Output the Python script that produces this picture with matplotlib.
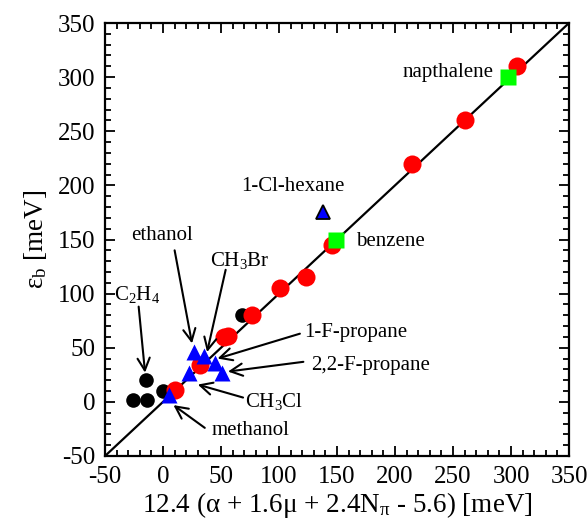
import numpy as np
import matplotlib.pyplot as plt

plt.rcParams['font.family'] = ['Liberation Serif', 'DejaVu Serif']
plt.rcParams['mathtext.fontset'] = 'custom'
plt.rcParams['mathtext.rm'] = 'Liberation Serif'
plt.rcParams['mathtext.it'] = 'Liberation Serif:italic'
plt.rcParams['axes.unicode_minus'] = False

# data
black_x = [-26, -14, -15, 0, 68]
black_y = [2, 2, 20, 10, 80]

red_x = [10, 32, 53, 56, 77, 101, 123, 146, 215, 260, 305]
red_y = [11, 34, 60, 61, 80, 105, 115, 145, 220, 260, 310]

blue_x = [5, 22, 27, 35, 45, 51]
blue_y = [6, 27, 46, 42, 36, 27]

hexane_x = [138]
hexane_y = [175]

green_x = [149, 297]
green_y = [150, 300]

fit_x = [-50, 350]
fit_y = [-50, 350]

fig = plt.figure(figsize=(5.88, 5.29), dpi=100)
ax = fig.add_axes([0.1786, 0.138, 0.7891, 0.8185])

ax.plot(fit_x, fit_y, color='black', lw=1.6, zorder=1)
ax.plot(black_x, black_y, 'o', color='black', ms=10.5, mec='none', zorder=2)
ax.plot(red_x, red_y, 'o', color='#ff0000', ms=13, mec='none', zorder=3)
ax.plot(blue_x, blue_y, '^', color='#0000ff', ms=12, mec='none', zorder=4)
ax.plot(hexane_x, hexane_y, '^', color='#0000ff', ms=10, mec='black', mew=1.3, zorder=4)
ax.plot(green_x, green_y, 's', color='#00ff00', ms=11.5, mec='none', zorder=5)

fs = 15
ax.text(246, 304, 'napthalene', fontsize=fs, ha='center', va='center')
ax.text(112, 199, '1-Cl-hexane', fontsize=fs, ha='center', va='center')
ax.text(166, 148, 'benzene', fontsize=fs, ha='left', va='center')

arr = dict(arrowstyle='->', color='black', lw=1.5, mutation_scale=22, shrinkA=0, shrinkB=0)
ax.text(-1, 154, 'ethanol', fontsize=fs, ha='center', va='center')
ax.annotate('', xy=(25, 54), xytext=(10, 140), arrowprops=arr)
ax.text(66, 131, r'CH$_3$Br', fontsize=fs, ha='center', va='center')
ax.annotate('', xy=(38, 46), xytext=(54, 122), arrowprops=arr)
ax.text(-22, 99, r'C$_2$H$_4$', fontsize=fs, ha='center', va='center')
ax.annotate('', xy=(-15.5, 27), xytext=(-21, 88), arrowprops=arr)
ax.text(71, 0, r'CH$_3$Cl', fontsize=fs, ha='left', va='center')
ax.annotate('', xy=(30, 16), xytext=(69, 4), arrowprops=arr)
ax.text(42, -26, 'methanol', fontsize=fs, ha='left', va='center')
ax.annotate('', xy=(9, -3), xytext=(36, -24), arrowprops=arr)
ax.text(122, 64, '1-F-propane', fontsize=fs, ha='left', va='center')
ax.annotate('', xy=(47, 40), xytext=(118, 63), arrowprops=arr)
ax.text(128, 34, '2,2-F-propane', fontsize=fs, ha='left', va='center')
ax.annotate('', xy=(56, 28), xytext=(121, 37), arrowprops=arr)

ax.set_xlim(-50, 350)
ax.set_ylim(-50, 350)
ax.set_xticks(np.arange(-50, 351, 50))
ax.set_yticks(np.arange(-50, 351, 50))
ax.set_xticks(np.arange(-50, 351, 10), minor=True)
ax.set_yticks(np.arange(-50, 351, 10), minor=True)
ax.tick_params(which='both', direction='in', top=True, right=True, labelsize=18, width=1.3)
ax.tick_params(which='major', length=7, pad=7)
ax.tick_params(which='minor', length=4)
for s in ax.spines.values():
    s.set_linewidth(1.6)

ax.set_xlabel(r'12.4 ($\mathrm{\alpha}$ + 1.6$\mathrm{\mu}$ + 2.4N$_{\mathrm{\pi}}$ - 5.6) [meV]',
              fontsize=19.5, labelpad=2)
ax.set_ylabel(r'$\mathrm{\varepsilon}_{\mathrm{b}}$ [meV]', fontsize=19.5, labelpad=6)

fig.savefig('out.png', dpi=100)
